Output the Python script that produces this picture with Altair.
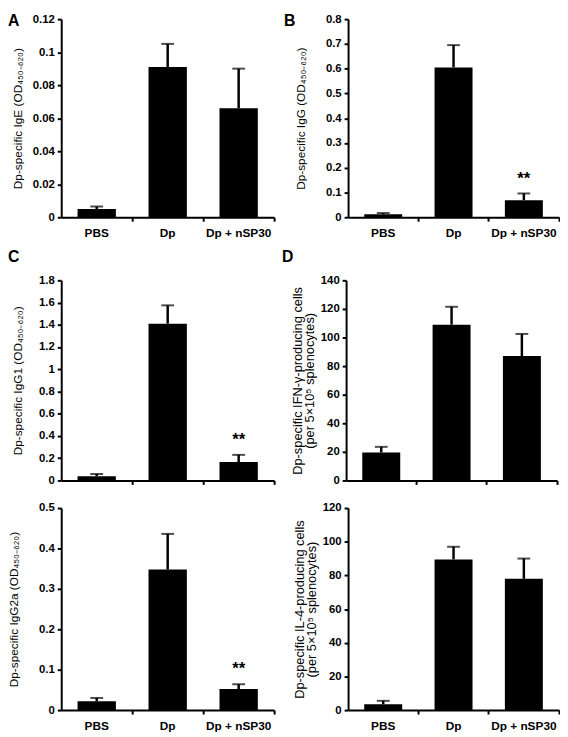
import altair as alt
import pandas as pd

# ---------------- data ----------------
groups = ["PBS", "Dp", "Dp + nSP30"]

ige_mean = [0.005, 0.091, 0.066]
ige_sem = [0.0015, 0.014, 0.024]
ige_stars = ["", "", ""]
ige_ticks = [0, 0.02, 0.04, 0.06, 0.08, 0.1, 0.12]

igg_mean = [0.012, 0.605, 0.069]
igg_sem = [0.005, 0.09, 0.027]
igg_stars = ["", "", "**"]
igg_ticks = [0, 0.1, 0.2, 0.3, 0.4, 0.5, 0.6, 0.7, 0.8]

igg1_mean = [0.038, 1.41, 0.165]
igg1_sem = [0.02, 0.165, 0.065]
igg1_stars = ["", "", "**"]
igg1_ticks = [0, 0.2, 0.4, 0.6, 0.8, 1, 1.2, 1.4, 1.6, 1.8]

igg2a_mean = [0.022, 0.348, 0.052]
igg2a_sem = [0.008, 0.088, 0.012]
igg2a_stars = ["", "", "**"]
igg2a_ticks = [0, 0.1, 0.2, 0.3, 0.4, 0.5]

ifng_mean = [19.5, 109, 87]
ifng_sem = [4, 12.5, 15.5]
ifng_stars = ["", "", ""]
ifng_ticks = [0, 20, 40, 60, 80, 100, 120, 140]

il4_mean = [3.5, 89.5, 78]
il4_sem = [2, 7.5, 12]
il4_stars = ["", "", ""]
il4_ticks = [0, 20, 40, 60, 80, 100, 120]

FONT = "Liberation Sans"
PAD = 0.46
BANDPOS = 1 + PAD / (2 * (1 - PAD))


def panel(mean, sem, stars, ticks, title, width, height, letter=None,
          letter_dx=-54, letter_dy=6, show_labels=True, title_pad=7,
          extent=30, title_size=12, title_lh=12):
    df = pd.DataFrame({"group": groups, "mean": mean, "sem": sem, "star": stars})
    xenc = alt.X(
        "group:N", sort=groups,
        scale=alt.Scale(paddingInner=PAD, paddingOuter=PAD / 2),
        axis=alt.Axis(title=None, labels=show_labels, labelAngle=0,
                      bandPosition=BANDPOS, tickSize=4, labelPadding=7,
                      labelFontSize=12),
    )
    yaxis = alt.Axis(values=ticks, labelExpr="format(datum.value, '~g')",
                     title=title, tickSize=4,
                     labelPadding=3, labelFontSize=11.5, minExtent=extent,
                     maxExtent=extent, titlePadding=title_pad,
                     titleFontSize=title_size, titleLineHeight=title_lh)
    yscale = alt.Scale(domain=[0, ticks[-1] * 1.000001], nice=False, zero=True)
    base = alt.Chart(df).transform_calculate(upper="datum.mean + datum.sem")
    bars = base.mark_bar(color="black").encode(
        x=xenc, y=alt.Y("mean:Q", scale=yscale, axis=yaxis))
    err = base.mark_rule(color="black", strokeWidth=2.5).encode(
        x=xenc, y=alt.Y("mean:Q", scale=yscale, axis=yaxis), y2="upper:Q")
    cap = base.mark_tick(color="black", size=13, thickness=2).encode(
        x=xenc, y=alt.Y("upper:Q", scale=yscale, axis=yaxis))
    layers = [bars, err, cap]
    if any(s for s in stars):
        st = base.transform_filter("datum.star != ''").mark_text(
            font=FONT, fontSize=17, fontWeight="bold", baseline="alphabetic",
            dy=-10, color="black").encode(
            x=xenc, y=alt.Y("upper:Q", scale=yscale, axis=yaxis), text="star:N")
        layers.append(st)
    if letter:
        lt = alt.Chart(pd.DataFrame({"t": [letter]})).mark_text(
            font=FONT, fontSize=16, fontWeight="bold", align="left",
            baseline="alphabetic", color="black").encode(
            x=alt.value(letter_dx), y=alt.value(letter_dy), text="t:N")
        layers.append(lt)
    return alt.layer(*layers).properties(width=width, height=height)


sub = "OD\u2084\u2085\u2080\u208b\u2086\u2082\u2080"
A = panel(ige_mean, ige_sem, ige_stars, ige_ticks,
          f"Dp-specific IgE ({sub})", 216, 201, letter="A",
          letter_dx=-54, letter_dy=7, title_pad=7)
B = panel(igg_mean, igg_sem, igg_stars, igg_ticks,
          f"Dp-specific IgG ({sub})", 214, 201, letter="B",
          letter_dx=-65, letter_dy=7, title_pad=11)
Ct = panel(igg1_mean, igg1_sem, igg1_stars, igg1_ticks,
           f"Dp-specific IgG1 ({sub})", 216, 203, letter="C",
           letter_dx=-54, letter_dy=-19, show_labels=False, title_pad=7)
Dt = panel(ifng_mean, ifng_sem, ifng_stars, ifng_ticks,
           ["Dp-specific IFN-\u03b3-producing cells", "(per 5\u00d710\u2075 splenocytes)"],
           214, 203, letter="D", letter_dx=-65, letter_dy=-19,
           show_labels=False, title_pad=4, extent=26, title_size=13, title_lh=12)
Cb = panel(igg2a_mean, igg2a_sem, igg2a_stars, igg2a_ticks,
           f"Dp-specific IgG2a ({sub})", 216, 205, title_pad=11)
Db = panel(il4_mean, il4_sem, il4_stars, il4_ticks,
           ["Dp-specific IL-4-producing cells", "(per 5\u00d710\u2075 splenocytes)"],
           214, 205, title_pad=4, extent=26, title_size=13, title_lh=12)

row1 = alt.hconcat(A, B, spacing=9)
row2 = alt.hconcat(Ct, Dt, spacing=7)
row3 = alt.hconcat(Cb, Db, spacing=19)

chart = alt.vconcat(row1, alt.vconcat(row2, row3, spacing=16), spacing=10).properties(
    padding=0
).configure_view(stroke=None).configure_axis(
    grid=False, domainColor="black", domainWidth=2, tickColor="black",
    tickWidth=2, labelFont=FONT, labelFontWeight="bold", labelColor="black",
    titleFont=FONT, titleFontWeight="normal", titleColor="black",
)

chart.save("out.html", embed_options={"renderer": "svg", "actions": False})
